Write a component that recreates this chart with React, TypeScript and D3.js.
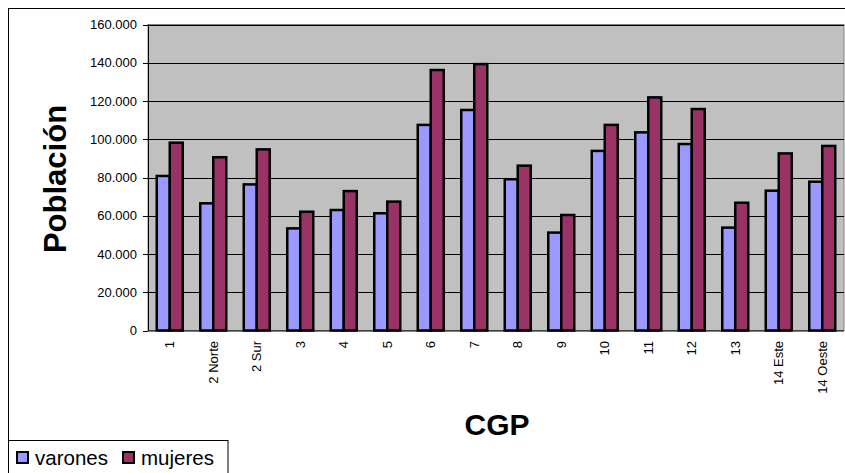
import React from "react";
import * as d3 from "d3";

const categories = ["1", "2 Norte", "2 Sur", "3", "4", "5", "6", "7", "8", "9", "10", "11", "12", "13", "14 Este", "14 Oeste"];
const varones = [80800, 66500, 76400, 53400, 63000, 61300, 107500, 115300, 79100, 51200, 93900, 103600, 97500, 53800, 73100, 77800];
const mujeres = [98200, 90600, 94700, 62100, 72900, 67400, 136200, 139300, 86200, 60400, 107500, 121900, 115800, 66800, 92600, 96500];
const yTicks = [0, 20000, 40000, 60000, 80000, 100000, 120000, 140000, 160000];
const seriesNames = ["varones", "mujeres"];
const seriesColors = ["#9999FF", "#993366"];

const W = 845;
const H = 473;
const plot = { left: 148, right: 844, top: 24.5, bottom: 330.5 };
const FONT = "Arial, 'Liberation Sans', sans-serif";

export default function App() {
  const x = d3.scaleBand<string>().domain(categories).range([plot.left, plot.right]).paddingInner(0).paddingOuter(0);
  const groupW = 26;
  const xs = d3.scaleBand<string>().domain(seriesNames).range([0, groupW]);
  const y = d3.scaleLinear().domain([0, 160000]).range([plot.bottom, plot.top]);
  const fmt = (v: number) => (v === 0 ? "0" : d3.format(",")(v).replace(/,/g, "."));
  const series = [varones, mujeres];

  return (
    <svg width={W} height={H} style={{ position: "absolute", left: 0, top: 0, background: "#fff" }} fontFamily={FONT}>
      <rect x={8.5} y={8.5} width={W + 10} height={H + 10} fill="#fff" stroke="#000" strokeWidth={1} />
      <rect x={plot.left} y={plot.top} width={plot.right - plot.left} height={plot.bottom - plot.top} fill="#C0C0C0" stroke="#808080" strokeWidth={1} />
      {yTicks.map((t) => (
        <g key={t}>
          {t > 0 && <line x1={plot.left} x2={plot.right} y1={Math.round(y(t)) + 0.5} y2={Math.round(y(t)) + 0.5} stroke="#000" strokeWidth={1} />}
          <line x1={plot.left - 5} x2={plot.left} y1={Math.round(y(t)) + 0.5} y2={Math.round(y(t)) + 0.5} stroke="#000" strokeWidth={1} />
          <text x={137} y={y(t)} dy="0.35em" textAnchor="end" fontSize={13} fill="#000">
            {fmt(t)}
          </text>
        </g>
      ))}
      <line x1={plot.left + 0.5} x2={plot.left + 0.5} y1={plot.top} y2={plot.bottom} stroke="#000" strokeWidth={1} />
      {categories.map((c, i) => {
        const gx = (x(c) as number) + (x.bandwidth() - groupW) / 2;
        return (
          <g key={c}>
            {series.map((s, k) => (
              <rect
                key={k}
                x={gx + (xs(seriesNames[k]) as number)}
                y={y(s[i])}
                width={xs.bandwidth()}
                height={y(0) - y(s[i])}
                fill={seriesColors[k]}
                stroke="#000"
                strokeWidth={2.5}
              />
            ))}
          </g>
        );
      })}
      <line x1={plot.left} x2={plot.right} y1={plot.bottom + 0.5} y2={plot.bottom + 0.5} stroke="#000" strokeWidth={1} />
      {categories.map((c) => {
        const cx = (x(c) as number) + x.bandwidth() / 2;
        return (
          <text key={c} transform={`translate(${cx},341) rotate(-90)`} dy="0.35em" textAnchor="end" fontSize={13} fill="#000">
            {c}
          </text>
        );
      })}
      <text transform="translate(66,179) rotate(-90)" textAnchor="middle" fontSize={31} fontWeight="bold" fill="#000">
        Población
      </text>
      <text x={497} y={435} textAnchor="middle" fontSize={30} fontWeight="bold" fill="#000">
        CGP
      </text>
      <rect x={8.5} y={440.5} width={219.5} height={40} fill="#fff" stroke="#000" strokeWidth={1} />
      {seriesNames.map((n, k) => {
        const lx = k === 0 ? 16 : 122;
        return (
          <g key={n}>
            <rect x={lx + 1} y={452} width={11} height={11} fill={seriesColors[k]} stroke="#000" strokeWidth={2} />
            <text x={lx + 19} y={465} fontSize={20.5} fill="#000">
              {n}
            </text>
          </g>
        );
      })}
    </svg>
  );
}
